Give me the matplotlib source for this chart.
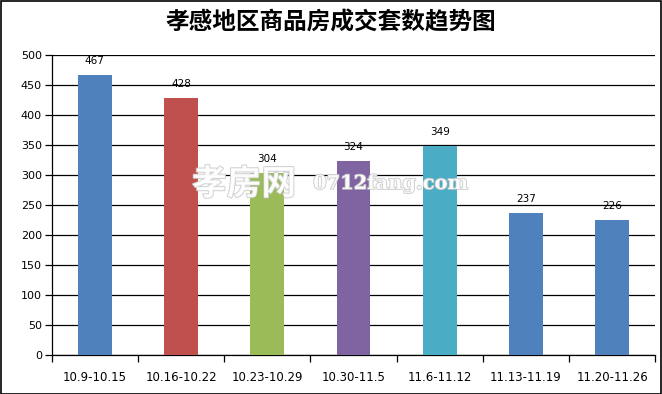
import matplotlib.pyplot as plt
import matplotlib.patheffects as pe
from matplotlib.patches import Rectangle

plt.rcParams['font.family'] = ['Noto Sans CJK SC', 'DejaVu Sans']

title = "孝感地区商品房成交套数趋势图"
weeks = ["10.9-10.15", "10.16-10.22", "10.23-10.29", "10.30-11.5",
         "11.6-11.12", "11.13-11.19", "11.20-11.26"]
counts = [467, 428, 304, 324, 349, 237, 226]
colors = ["#4F81BD", "#C0504D", "#9BBB59", "#8064A2", "#4BACC6", "#4F81BD", "#4F81BD"]

fig = plt.figure(figsize=(6.62, 3.94), dpi=100)
ax = fig.add_axes([0.078, 0.098, 0.912, 0.762])

x = range(len(weeks))
ax.bar(x, counts, width=0.39, color=colors, zorder=3)
for i, v in zip(x, counts):
    ax.annotate(str(v), (i, v), xytext=(0, 6.5), textcoords="offset points",
                ha="center", va="bottom", fontsize=7.5, family="DejaVu Sans")

ax.set_xlim(-0.5, len(weeks) - 0.5)
ax.set_ylim(0, 500)
ax.set_yticks(range(0, 501, 50))
ax.yaxis.grid(True, color="black", linewidth=0.9, zorder=0)
ax.set_axisbelow(True)

ax.set_xticks(list(x))
ax.set_xticklabels(weeks, family="DejaVu Sans", fontsize=8.5)
ax.set_xticks([i - 0.5 for i in range(len(weeks) + 1)], minor=True)
ax.tick_params(axis="x", which="major", length=0, pad=11)
ax.tick_params(axis="x", which="minor", length=5, width=0.9)
ax.tick_params(axis="y", length=5, width=0.9, labelsize=8, pad=2)
for lab in ax.get_yticklabels():
    lab.set_family("DejaVu Sans")

for s in ["top", "right"]:
    ax.spines[s].set_visible(False)
ax.spines["left"].set_linewidth(0.9)
ax.spines["bottom"].set_linewidth(0.9)

fig.text(0.5, 0.944, title, ha="center", va="center", fontsize=17, fontweight="bold")

# watermark
wm = [pe.withStroke(linewidth=1.2, foreground="#c4c4c4")]
fig.text(0.29, 0.533, "孝房网", fontsize=25, color="white", alpha=0.85,
         va="center", fontweight="bold", path_effects=wm)
fig.text(0.473, 0.533, "0712fang.com", fontsize=14, color="white", alpha=0.85,
         va="center", family="DejaVu Serif", fontweight="bold", path_effects=wm)

fig.patches.append(Rectangle((0.001, 0.001), 0.997, 0.997, transform=fig.transFigure,
                             fill=False, edgecolor="black", linewidth=1.2))

fig.savefig("out.png", dpi=100)
